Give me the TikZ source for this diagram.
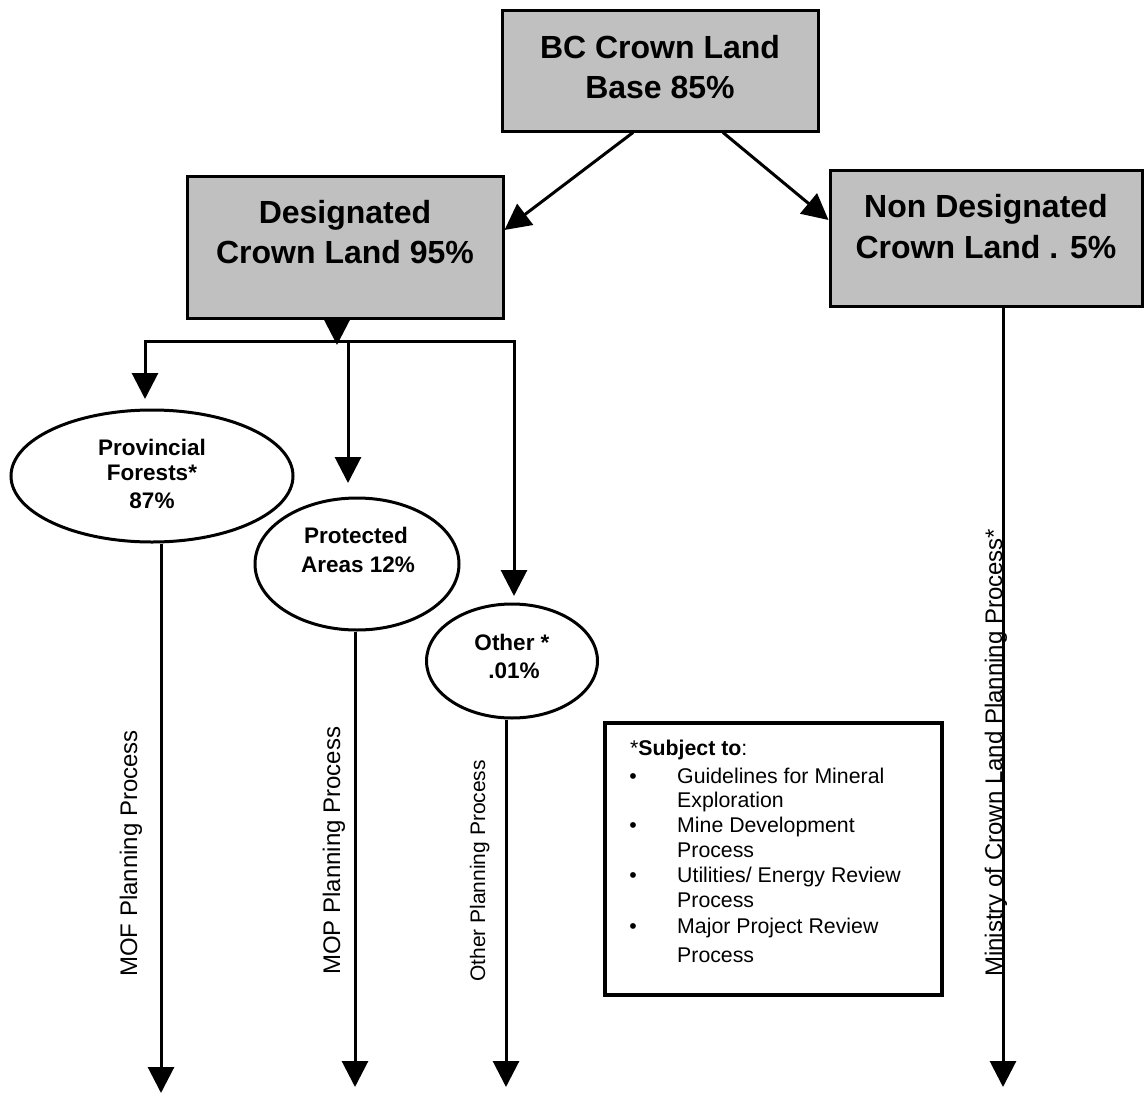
\documentclass[tikz,border=0pt]{standalone}
\usepackage{fontspec}
\setmainfont{Liberation Sans}
\usetikzlibrary{arrows.meta,shapes.geometric,calc}
\definecolor{boxgray}{RGB}{192,192,192}
\begin{document}
\begin{tikzpicture}[x=1pt,y=-1pt,
  box/.style={rectangle,draw=black,line width=3pt,fill=boxgray,inner sep=0pt},
  oval/.style={ellipse,draw=black,line width=3pt,fill=white,inner sep=0pt},
  ln/.style={line width=3pt},
  arr/.style={line width=3pt,-{Triangle[width=26pt,length=26pt]}},
  bigtxt/.style={anchor=base,inner sep=0pt,font=\fontsize{32}{40}\selectfont\bfseries},
  ovtxt/.style={anchor=base,inner sep=0pt,font=\fontsize{22.5}{27}\selectfont\bfseries},
  legtxt/.style={anchor=base west,inner sep=0pt,font=\fontsize{21.3}{25}\selectfont},
  rottxt/.style={anchor=base west,rotate=90,inner sep=0pt,font=\fontsize{24}{28}\selectfont},
]
\useasboundingbox (0,0) rectangle (1144,1095);

% boxes
\node[box,minimum width=316pt,minimum height=121pt] (top) at (660,70.5) {};
\node[box,minimum width=316pt,minimum height=142pt] (des) at (345,247) {};
\node[box,minimum width=312pt,minimum height=136pt] (non) at (986,238) {};

\node[bigtxt] (top1) at (660,58) {BC Crown Land};
\node[bigtxt] (top2) at (660,98) {Base 85\%};
\node[bigtxt] (des1) at (345,223) {Designated};
\node[bigtxt] (des2) at (345,263) {Crown Land 95\%};
\node[bigtxt] (non1) at (986,217) {Non Designated};
\node[bigtxt] (non2) at (986,258) {Crown Land . 5\%};

% ellipses
\node[oval,minimum width=282pt,minimum height=132pt] (pf) at (152,476) {};
\node[oval,minimum width=204pt,minimum height=132pt] (pa) at (357,564) {};
\node[oval,minimum width=171pt,minimum height=114pt] (ot) at (512,661) {};

\node[ovtxt] (pf1) at (152,455) {Provincial};
\node[ovtxt] (pf2) at (152,480) {Forests*};
\node[ovtxt] (pf3) at (152,508) {87\%};
\node[ovtxt] (pa1) at (356,543) {Protected};
\node[ovtxt] (pa2) at (358,572) {Areas 12\%};
\node[ovtxt] (ot1) at (512,650) {Other *};
\node[ovtxt] (ot2) at (514,678) {.01\%};

% connectors from the top box
\draw[arr] ($(top.south)+(-27,0)$) -- ($(des.east)+(0,-17)$);
\draw[arr] ($(top.south)+(63,0)$) -- ($(non.west)+(0,-18)$);

% designated split
\coordinate (junc) at (337,345);
\coordinate (jl) at (145,341);
\coordinate (jm) at (348,341);
\coordinate (jr) at (514,341);
\coordinate (tipl) at (145,399);
\coordinate (tipm) at (348,483);
\coordinate (tipr) at (514,596);
\draw[arr] ($(des.south)+(-8,0)$) -- (junc);
\draw[ln,line cap=rect] (jl) -- (jr);
\draw[arr] (jl) -- (tipl);
\draw[arr] (jm) -- (tipm);
\draw[arr] (jr) -- (tipr);

% process arrows
\coordinate (endpf) at (161,1093);
\coordinate (endpa) at (355,1087);
\coordinate (endot) at (506,1087);
\coordinate (endnon) at (1003,1087);
\draw[arr] (pf.south -| endpf) -- (endpf);
\draw[arr] (pa.south -| endpa) -- (endpa);
\draw[arr] (ot.south -| endot) -- (endot);
\draw[arr] (non.south -| endnon) -- (endnon);

% rotated labels
\node[rottxt] (lmof) at (137,977) {MOF Planning Process};
\node[rottxt] (lmop) at (340,975) {MOP Planning Process};
\node[rottxt,font=\fontsize{21}{25}\selectfont] (loth) at (485,982) {Other Planning Process};
\node[rottxt] (lmin) at (1002,977) {Ministry of Crown Land Planning Process*};

% legend
\node[rectangle,draw=black,line width=3.5pt,fill=white,minimum width=337pt,minimum height=272pt,inner sep=0pt] (leg) at (773.5,859) {};
\node[legtxt] (lg0) at (630,755) {*\textbf{Subject to}:};
\node[legtxt,anchor=base] (b1) at (633,783) {•};
\node[legtxt,anchor=base] (b2) at (633,832) {•};
\node[legtxt,anchor=base] (b3) at (633,882) {•};
\node[legtxt,anchor=base] (b4) at (633,933) {•};
\node[legtxt] (lg1) at (677,783) {Guidelines for Mineral};
\node[legtxt] (lg2) at (677,807) {Exploration};
\node[legtxt] (lg3) at (677,832) {Mine Development};
\node[legtxt] (lg4) at (677,857) {Process};
\node[legtxt] (lg5) at (677,882) {Utilities/ Energy Review};
\node[legtxt] (lg6) at (677,907) {Process};
\node[legtxt] (lg7) at (677,933) {Major Project Review};
\node[legtxt] (lg8) at (677,962) {Process};
\end{tikzpicture}
\end{document}
